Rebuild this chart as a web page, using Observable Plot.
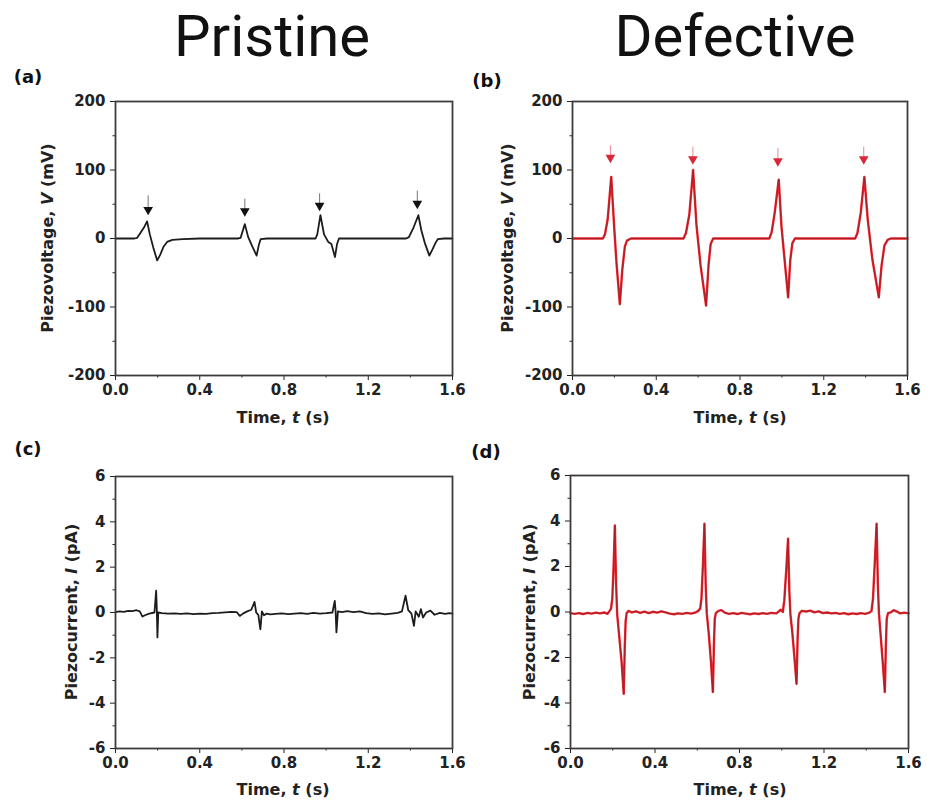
<!DOCTYPE html>
<html>
<head>
<meta charset="utf-8">
<script src="https://cdn.jsdelivr.net/npm/d3@7"></script>
<script src="https://cdn.jsdelivr.net/npm/@observablehq/plot@0.6"></script>
<style>
  body { margin: 0; background: #fff; }
  #root { position: relative; width: 927px; height: 806px; overflow: hidden; font-family: "DejaVu Sans", sans-serif; color: #222; }
  .c { position: absolute; transform: translate(-50%, -50%); white-space: nowrap; }
  .title { font-family: Roboto, sans-serif; font-size: 58px; line-height: 58px; font-weight: 400; color: #111; }
  .plabel { font-weight: bold; font-size: 18px; line-height: 20px; color: #111; }
  .xlab { font-weight: bold; font-size: 16px; line-height: 18px; }
  .ylab { font-weight: bold; font-size: 16px; line-height: 18px; transform: translate(-50%, -50%) rotate(-90deg); }
  .panel { position: absolute; }
</style>
</head>
<body>
<div id="root">
  <div class="c title" style="left:272px; top:36px;">Pristine</div>
  <div class="c title" style="left:735px; top:36px;">Defective</div>

  <div class="c plabel" style="left:28px; top:77px;">(a)</div>
  <div class="c plabel" style="left:487px; top:81px;">(b)</div>
  <div class="c plabel" style="left:28px; top:449px;">(c)</div>
  <div class="c plabel" style="left:486px; top:452px;">(d)</div>

  <div class="panel" id="pa" style="left:0px; top:85px;"></div>
  <div class="panel" id="pb" style="left:463px; top:85px;"></div>
  <div class="panel" id="pc" style="left:0px; top:455px;"></div>
  <div class="panel" id="pd" style="left:463px; top:455px;"></div>

  <div class="c xlab" style="left:283px; top:418px;">Time, <i>t</i> (s)</div>
  <div class="c xlab" style="left:740px; top:418px;">Time, <i>t</i> (s)</div>
  <div class="c xlab" style="left:283px; top:790px;">Time, <i>t</i> (s)</div>
  <div class="c xlab" style="left:740px; top:790px;">Time, <i>t</i> (s)</div>

  <div class="c ylab" style="left:48px; top:238px;">Piezovoltage, <i>V</i> (mV)</div>
  <div class="c ylab" style="left:508px; top:238px;">Piezovoltage, <i>V</i> (mV)</div>
  <div class="c ylab" style="left:72px; top:612px;">Piezocurrent, <i>I</i> (pA)</div>
  <div class="c ylab" style="left:530px; top:612px;">Piezocurrent, <i>I</i> (pA)</div>
</div>
<script>
// ---------- axis ticks ----------
const timeTicks = [0, 0.4, 0.8, 1.2, 1.6];
const timeMinor = [0.2, 0.6, 1.0, 1.4];
const voltTicks = [-200, -100, 0, 100, 200];
const voltMinor = [-150, -50, 50, 150];
const currTicks = [-6, -4, -2, 0, 2, 4, 6];
const currMinor = [-5, -3, -1, 1, 3, 5];

// ---------- (a) Pristine piezovoltage (mV) ----------
const tA = [0.000, 0.090, 0.103, 0.118, 0.135, 0.150, 0.163, 0.180, 0.198, 0.212, 0.228, 0.245, 0.270, 0.320, 0.400, 0.500, 0.580, 0.594, 0.614, 0.630, 0.650, 0.670, 0.680, 0.689, 0.720, 0.900, 0.950, 0.958, 0.973, 0.990, 1.010, 1.025, 1.042, 1.052, 1.061, 1.200, 1.380, 1.393, 1.415, 1.438, 1.452, 1.468, 1.490, 1.505, 1.520, 1.530, 1.560, 1.600];
const vA = [0, 0, 1, 8, 16, 25, 6, -14, -32, -24, -12, -5, -2, -1, 0, 0, 0, 1, 21, 2, -12, -25, -10, -1, 0, 0, 0, 6, 34, 6, -5, -8, -27, -8, 0, 0, 0, 2, 16, 34, 12, -6, -25, -16, -6, -1, 0, 0];
const arrowTA = [0.155, 0.614, 0.969, 1.433];
const arrowHeadA = [42, 40, 48, 51];
const arrowTopA = [63, 58, 66, 70];

// ---------- (b) Defective piezovoltage (mV) ----------
const tB = [0.000, 0.145, 0.155, 0.168, 0.185, 0.198, 0.210, 0.226, 0.238, 0.250, 0.260, 0.280, 0.530, 0.542, 0.558, 0.576, 0.592, 0.612, 0.638, 0.650, 0.660, 0.672, 0.940, 0.951, 0.966, 0.985, 0.998, 1.012, 1.030, 1.040, 1.050, 1.062, 1.350, 1.361, 1.377, 1.394, 1.410, 1.432, 1.463, 1.476, 1.490, 1.505, 1.520, 1.600];
const vB = [0, 0, 6, 28, 90, 22, -35, -96, -45, -12, -3, 0, 0, 8, 35, 100, 20, -40, -98, -38, -8, 0, 0, 9, 38, 86, 18, -28, -86, -32, -7, 0, 0, 8, 38, 90, 28, -30, -86, -40, -10, -2, 0, 0];
const arrowTB = [0.181, 0.575, 0.981, 1.391];
const arrowHeadB = [118, 116, 113, 116];
const arrowTopB = [136, 134, 132, 134];

// ---------- (c) Pristine piezocurrent (pA) ----------
const tC = [0.000, 0.020, 0.040, 0.060, 0.080, 0.100, 0.115, 0.128, 0.140, 0.160, 0.185, 0.193, 0.196, 0.199, 0.203, 0.220, 0.250, 0.280, 0.310, 0.340, 0.370, 0.400, 0.430, 0.460, 0.490, 0.520, 0.550, 0.575, 0.590, 0.605, 0.625, 0.645, 0.660, 0.668, 0.678, 0.688, 0.695, 0.705, 0.718, 0.735, 0.760, 0.790, 0.820, 0.850, 0.880, 0.910, 0.940, 0.970, 1.000, 1.030, 1.041, 1.045, 1.049, 1.056, 1.075, 1.100, 1.130, 1.160, 1.190, 1.220, 1.250, 1.280, 1.310, 1.340, 1.360, 1.377, 1.390, 1.405, 1.417, 1.425, 1.440, 1.450, 1.460, 1.475, 1.495, 1.515, 1.540, 1.565, 1.585, 1.600];
const iC = [0.02, 0.05, 0.03, 0.07, 0.06, 0.10, 0.05, -0.18, -0.12, -0.05, 0.00, 0.96, 0.20, -1.10, 0.00, -0.03, -0.05, -0.04, -0.06, -0.04, -0.07, -0.05, -0.06, -0.03, -0.02, 0.01, 0.03, 0.02, -0.15, -0.05, 0.05, 0.12, 0.47, 0.00, -0.10, -0.74, 0.05, -0.12, -0.05, -0.08, -0.06, -0.04, -0.07, -0.05, -0.03, -0.06, -0.02, -0.05, -0.03, 0.00, 0.51, 0.05, -0.88, 0.05, 0.02, 0.06, 0.02, 0.05, -0.03, -0.06, -0.04, -0.08, -0.05, -0.02, 0.05, 0.74, 0.10, -0.05, -0.59, 0.05, -0.19, 0.15, -0.22, 0.00, 0.08, -0.10, -0.02, -0.06, -0.03, -0.05];

// ---------- (d) Defective piezocurrent (pA) ----------
const tD = [0.000, 0.020, 0.040, 0.060, 0.080, 0.100, 0.120, 0.140, 0.160, 0.175, 0.185, 0.192, 0.198, 0.204, 0.210, 0.216, 0.221, 0.230, 0.242, 0.252, 0.257, 0.261, 0.266, 0.275, 0.290, 0.310, 0.330, 0.350, 0.370, 0.390, 0.410, 0.430, 0.450, 0.470, 0.490, 0.510, 0.530, 0.550, 0.570, 0.590, 0.605, 0.614, 0.620, 0.627, 0.634, 0.640, 0.645, 0.655, 0.665, 0.674, 0.679, 0.683, 0.688, 0.700, 0.715, 0.730, 0.750, 0.770, 0.790, 0.810, 0.830, 0.850, 0.870, 0.890, 0.910, 0.930, 0.950, 0.975, 0.995, 1.005, 1.012, 1.021, 1.030, 1.036, 1.041, 1.050, 1.060, 1.070, 1.075, 1.079, 1.084, 1.095, 1.115, 1.135, 1.155, 1.175, 1.195, 1.215, 1.235, 1.255, 1.275, 1.295, 1.315, 1.335, 1.355, 1.375, 1.395, 1.415, 1.425, 1.432, 1.440, 1.449, 1.455, 1.460, 1.468, 1.478, 1.488, 1.493, 1.497, 1.503, 1.515, 1.530, 1.545, 1.560, 1.580, 1.600];
const iD = [-0.05, -0.08, -0.05, -0.09, -0.04, -0.07, -0.03, -0.06, -0.02, -0.08, 0.05, 0.15, 0.60, 2.00, 3.80, 1.20, -0.10, -1.00, -2.20, -3.60, -1.50, -0.40, -0.05, 0.05, -0.02, 0.03, -0.04, 0.02, -0.05, 0.01, -0.03, 0.03, -0.02, -0.07, -0.10, -0.06, -0.08, -0.04, -0.07, -0.03, 0.05, 0.15, 0.60, 2.10, 3.88, 1.20, -0.05, -1.00, -2.20, -3.52, -1.40, -0.30, -0.05, 0.05, 0.08, -0.03, -0.08, -0.05, -0.09, -0.04, -0.07, -0.10, -0.06, -0.09, -0.05, -0.08, -0.04, -0.06, 0.10, 0.00, 0.50, 1.80, 3.22, 0.90, -0.10, -0.90, -2.00, -3.16, -1.20, -0.30, -0.05, 0.05, 0.02, 0.06, -0.02, 0.03, -0.05, -0.02, -0.06, -0.04, -0.08, -0.05, -0.10, -0.06, -0.09, -0.05, -0.08, -0.03, 0.05, 0.60, 2.10, 3.88, 1.20, -0.05, -1.00, -2.20, -3.52, -1.40, -0.30, -0.05, -0.02, 0.08, 0.02, -0.06, -0.03, -0.06];

const zip = (ts, vs) => ts.map((t, i) => ({t, v: vs[i]}));

function panel({ts, vs, yTicks, yMinor, yDomain, width, height, margins, red, arrows}) {
  const marks = [
    Plot.axisX({ticks: timeTicks, tickSize: 5, tickPadding: 4, tickFormat: d => d.toFixed(1), label: null}),
    Plot.axisX({ticks: timeMinor, tickSize: 2.5, fill: "none", label: null}),
    Plot.axisY({ticks: yTicks, tickSize: 5, tickPadding: 5, tickFormat: d => String(d), label: null}),
    Plot.axisY({ticks: yMinor, tickSize: 2.5, fill: "none", label: null})
  ];
  const data = zip(ts, vs);
  if (red) {
    marks.push(Plot.line(data, {x: "t", y: "v", stroke: "#e8262f", strokeWidth: 2.4, strokeLinejoin: "round"}));
    marks.push(Plot.line(data, {x: "t", y: "v", stroke: "#9a1c22", strokeWidth: 0.8, strokeLinejoin: "round"}));
  } else {
    marks.push(Plot.line(data, {x: "t", y: "v", stroke: "#1c1c1c", strokeWidth: 1.8, strokeLinejoin: "round"}));
  }
  if (arrows) {
    const ad = arrows.t.map((t, i) => ({t, head: arrows.head[i], top: arrows.top[i]}));
    marks.push(Plot.link(ad, {x1: "t", x2: "t", y1: "top", y2: "head", stroke: arrows.stem, strokeWidth: 1}));
    marks.push(Plot.dot(ad, {x: "t", y: "head", symbol: "triangle", rotate: 180, r: 3.6, fill: arrows.fill, stroke: "none"}));
  }
  marks.push(Plot.frame({stroke: "#3c3c3c", strokeWidth: 1.8}));
  return Plot.plot({
    width, height,
    marginTop: margins[0], marginRight: margins[1], marginBottom: margins[2], marginLeft: margins[3],
    x: {domain: [0, 1.6]},
    y: {domain: yDomain},
    style: {fontFamily: "DejaVu Sans, sans-serif", fontSize: "15px", fontWeight: "bold", color: "#222", background: "transparent", overflow: "visible"},
    marks
  });
}

document.getElementById("pa").append(panel({
  ts: tA, vs: vA, yTicks: voltTicks, yMinor: voltMinor, yDomain: [-200, 200],
  width: 463, height: 345, margins: [16, 11, 55, 115], red: false,
  arrows: {t: arrowTA, head: arrowHeadA, top: arrowTopA, fill: "#111", stem: "#777"}
}));
document.getElementById("pb").append(panel({
  ts: tB, vs: vB, yTicks: voltTicks, yMinor: voltMinor, yDomain: [-200, 200],
  width: 464, height: 345, margins: [16, 20, 55, 109], red: true,
  arrows: {t: arrowTB, head: arrowHeadB, top: arrowTopB, fill: "#d8283a", stem: "#e88a90"}
}));
document.getElementById("pc").append(panel({
  ts: tC, vs: iC, yTicks: currTicks, yMinor: currMinor, yDomain: [-6, 6],
  width: 463, height: 351, margins: [21, 11, 58, 115], red: false
}));
document.getElementById("pd").append(panel({
  ts: tD, vs: iD, yTicks: currTicks, yMinor: currMinor, yDomain: [-6, 6],
  width: 464, height: 351, margins: [20, 19, 58, 107], red: true
}));
</script>
</body>
</html>
